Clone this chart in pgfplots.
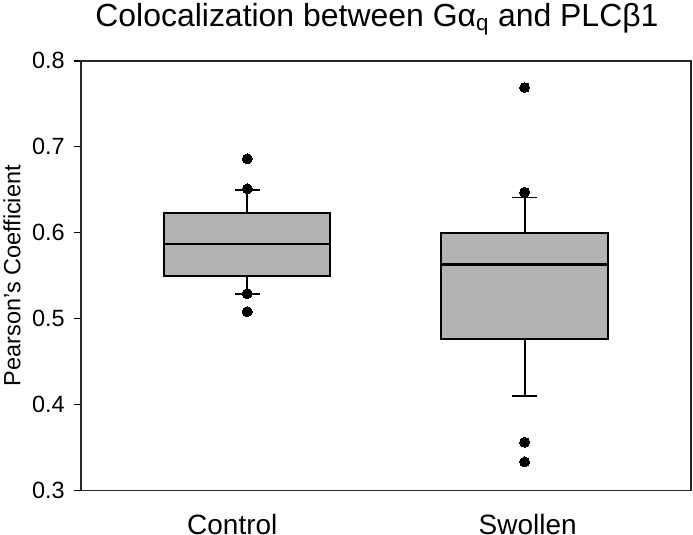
\documentclass[border=0pt]{standalone}
\usepackage{pgfplots}
\pgfplotsset{compat=1.18}
\usepgfplotslibrary{statistics}
\usepackage{fontspec}
\setmainfont{Liberation Sans}
\definecolor{boxgray}{RGB}{179,179,179}
\begin{document}
\begin{tikzpicture}
\begin{axis}[
  scale only axis, width=611bp, height=430bp,
  xmin=0.4, xmax=2.6, ymin=0.3, ymax=0.8,
  boxplot/draw direction=y,
  axis line style={line width=1.5bp, draw=black!85},
  xtick={0.946,2.011},
  xticklabels={Control,Swollen},
  xtick style={draw=none},
  ytick={0.3,0.4,0.5,0.6,0.7,0.8},
  ytick pos=left,
  tick align=outside,
  major tick length=7bp,
  ytick style={line width=1.2bp, black},
  /pgf/number format/assume math mode=true,
  yticklabel style={/pgf/number format/fixed,/pgf/number format/precision=1,/pgf/number format/fixed zerofill,
     font=\fontsize{23.5bp}{27bp}\selectfont, anchor=east, inner sep=0pt, xshift=-9bp},
  xticklabel style={font=\fontsize{28bp}{32bp}\selectfont, anchor=base, inner sep=0pt, yshift=-37bp},
  ylabel={Pearson's Coefficient},
  ylabel style={font=\fontsize{23.5bp}{27bp}\selectfont, at={(axis description cs:-0.113,0.5)}, anchor=center},
  title={Colocalization between Gα\textsubscript{q} and PLCβ1},
  title style={font=\fontsize{32bp}{36bp}\selectfont, at={(axis description cs:0.5,1)}, anchor=base, yshift=28bp, xshift=-9bp},
  clip=false,
]
\addplot[boxplot prepared={draw position=1, median=0.587, upper quartile=0.623, lower quartile=0.550,
    upper whisker=0.650, lower whisker=0.529, box extend=0.6, whisker extend=0.09,
    every median/.style={line width=2.2bp, draw=black},
    every whisker/.style={line width=1.9bp, draw=black}},
  fill=boxgray, draw=black, line width=2bp,
  mark=*, mark size=5bp, mark options={fill=black, draw=black, line width=0pt}]
  table[row sep=\\, y index=0] {data\\0.686\\0.651\\0.529\\0.508\\};
\addplot[boxplot prepared={draw position=2, median=0.563, upper quartile=0.600, lower quartile=0.476,
    upper whisker=0.641, lower whisker=0.410, box extend=0.6, whisker extend=0.09,
    every median/.style={line width=2.2bp, draw=black},
    every whisker/.style={line width=1.9bp, draw=black}},
  fill=boxgray, draw=black, line width=2bp,
  mark=*, mark size=5bp, mark options={fill=black, draw=black, line width=0pt}]
  table[row sep=\\, y index=0] {data\\0.769\\0.647\\0.356\\0.333\\};
\end{axis}
\path (current axis.south west) ++(-80bp,-42bp) coordinate (bbA);
\path (current axis.north east) ++(2bp,61bp) coordinate (bbB);
\useasboundingbox (bbA) rectangle (bbB);
\end{tikzpicture}
\end{document}
